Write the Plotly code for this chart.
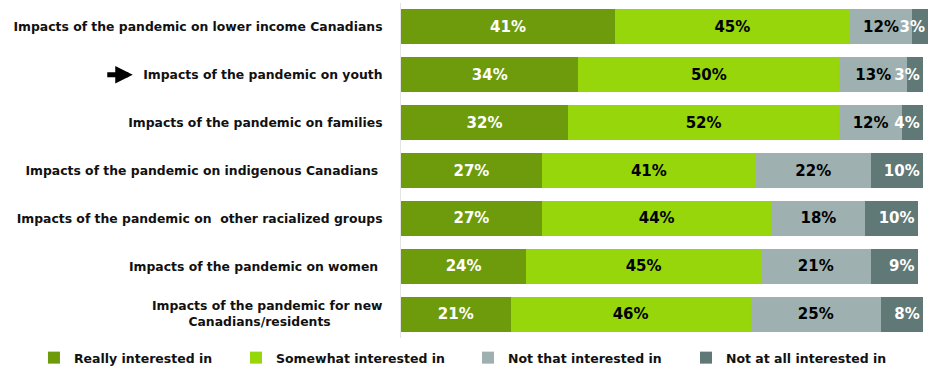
import plotly.graph_objects as go

# Survey topics (top to bottom)
topics = [
    "Impacts of the pandemic on lower income Canadians",
    "Impacts of the pandemic on youth",
    "Impacts of the pandemic on families",
    "Impacts of the pandemic on indigenous Canadians\u00a0",
    "Impacts of the pandemic on\u00a0\u00a0other racialized groups",
    "Impacts of the pandemic on women\u00a0",
    "Impacts of the pandemic for new<br>Canadians/residents" + "\u00a0" * 12,
]

# Share of respondents per interest level (%)
really = [41, 34, 32, 27, 27, 24, 21]
somewhat = [45, 50, 52, 41, 44, 45, 46]
not_that = [12, 13, 12, 22, 18, 21, 25]
not_at_all = [3, 3, 4, 10, 10, 9, 8]

series = [
    ("Really interested in", really, "#6E9B0C", "white", "middle"),
    ("Somewhat interested in", somewhat, "#96D60A", "black", "middle"),
    ("Not that interested in", not_that, "#9EB0AF", "black", "middle"),
    ("Not at all interested in", not_at_all, "#607876", "white", "end"),
]

FONT = "DejaVu Sans"
legend_x = [0.0366, 0.2543, 0.5043, 0.7392]

fig = go.Figure()
for i, (name, vals, color, tcolor, anchor) in enumerate(series):
    fig.add_trace(go.Bar(
        name=name,
        y=topics,
        x=vals,
        orientation="h",
        marker=dict(color=color, line=dict(width=0)),
        width=0.73,
        text=[f"{v}%" for v in vals],
        textposition="inside",
        insidetextanchor=anchor,
        textangle=0,
        constraintext="none",
        cliponaxis=False,
        textfont=dict(family=FONT, size=15, color=tcolor, weight="bold"),
        legend="legend" if i == 0 else f"legend{i + 1}",
        showlegend=True,
        hoverinfo="skip",
    ))

legend_common = dict(
    orientation="h",
    xref="container",
    yref="container",
    yanchor="middle",
    y=0.0245,
    xanchor="left",
    bgcolor="rgba(0,0,0,0)",
    font=dict(family=FONT, size=12.5, color="#111111", weight="bold"),
    itemwidth=30,
    visible=True,
)

fig.update_layout(
    width=928,
    height=367,
    margin=dict(l=401, r=0, t=3, b=29, autoexpand=False),
    barmode="stack",
    showlegend=True,
    plot_bgcolor="white",
    paper_bgcolor="white",
    font=dict(family=FONT, size=13, color="#111111"),
    xaxis=dict(range=[0, 101], visible=False, fixedrange=True),
    yaxis=dict(
        autorange="reversed",
        automargin=False,
        showgrid=False,
        zeroline=False,
        showline=True,
        linecolor="#E4E4E4",
        linewidth=1,
        ticks="",
        ticklabelstandoff=15,
        tickfont=dict(family=FONT, size=12.4, color="#111111", weight="bold"),
        fixedrange=True,
    ),
    legend=dict(x=legend_x[0], **legend_common),
    legend2=dict(x=legend_x[1], **legend_common),
    legend3=dict(x=legend_x[2], **legend_common),
    legend4=dict(x=legend_x[3], **legend_common),
    annotations=[
        dict(
            xref="paper", yref="y",
            x=-0.509, y=topics[1],
            ax=-27, ay=0,
            text="", showarrow=True,
            arrowhead=2, arrowsize=0.7, arrowwidth=5, arrowcolor="black",
        )
    ],
)

fig.write_html("out.html")
